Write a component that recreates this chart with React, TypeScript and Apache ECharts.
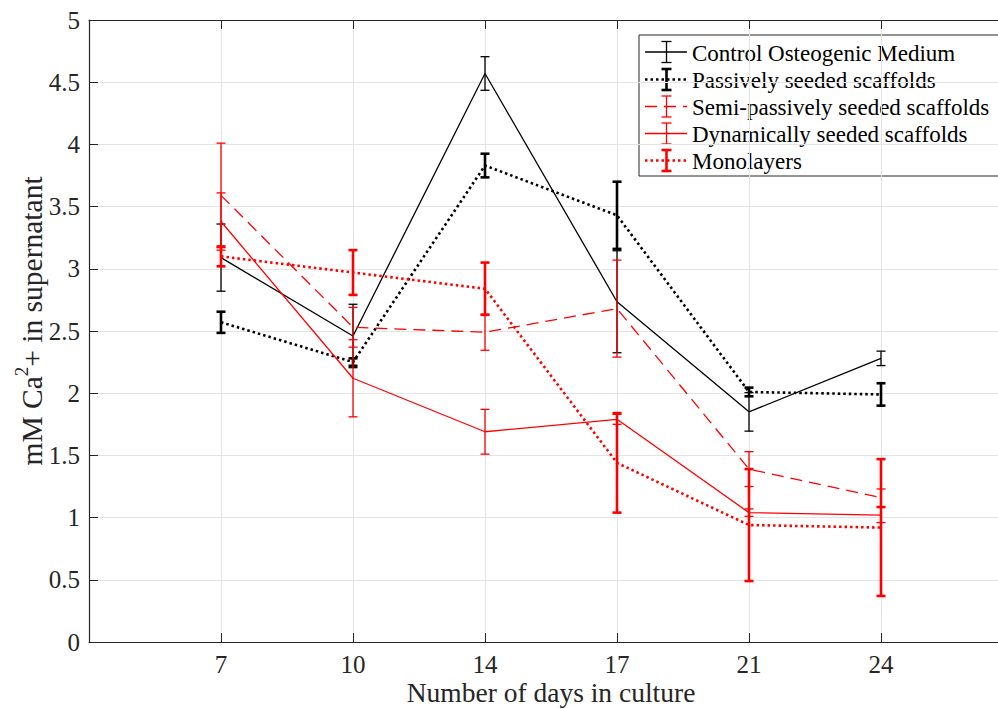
import React, { useEffect, useRef } from 'react';
import * as echarts from 'echarts';

// ---- data ----
const days = ['7', '10', '14', '17', '21', '24'];

const controlMean = [3.09, 2.46, 4.57, 2.735, 1.85, 2.28];
const controlErr = [0.27, 0.255, 0.135, 0.41, 0.155, 0.058];

const passiveMean = [2.57, 2.25, 3.83, 3.43, 2.01, 1.99];
const passiveErr = [0.085, 0.03, 0.095, 0.27, 0.035, 0.09];

const semiMean = [3.59, 2.53, 2.49, 2.68, 1.39, 1.16];
const semiErr = [0.42, 0.16, 0.145, 0.39, 0.14, 0.07];

const dynamicMean = [3.38, 2.12, 1.69, 1.79, 1.04, 1.02];
const dynamicErr = [0.23, 0.31, 0.18, 0.04, 0.03, 0.06];

const monoMean = [3.1, 2.97, 2.84, 1.44, 0.94, 0.92];
const monoErr = [0.08, 0.18, 0.21, 0.4, 0.45, 0.55];

const seriesNames = [
  'Control Osteogenic Medium',
  'Passively seeded scaffolds',
  'Semi-passively seeded scaffolds',
  'Dynamically seeded scaffolds',
  'Monolayers',
];

const FONT = 'Liberation Serif';
const AXIS = '#262626';
const GRID = '#e3e3e3';

type Def = {
  name: string;
  mean: number[];
  err: number[];
  color: string;
  width: number;
  dash: number[] | 'solid';
  barWidth: number;
};

const defs: Def[] = [
  { name: seriesNames[0], mean: controlMean, err: controlErr, color: '#000000', width: 1.3, dash: 'solid', barWidth: 1.3 },
  { name: seriesNames[1], mean: passiveMean, err: passiveErr, color: '#000000', width: 2.6, dash: [2.5, 3], barWidth: 2.6 },
  { name: seriesNames[2], mean: semiMean, err: semiErr, color: '#ff0000', width: 1.3, dash: [12, 7], barWidth: 1.3 },
  { name: seriesNames[3], mean: dynamicMean, err: dynamicErr, color: '#ff0000', width: 1.3, dash: 'solid', barWidth: 1.3 },
  { name: seriesNames[4], mean: monoMean, err: monoErr, color: '#ff0000', width: 2.6, dash: [2.5, 3], barWidth: 2.6 },
];

function buildSeries() {
  const out: any[] = [];
  defs.forEach((d, si) => {
    out.push({
      type: 'line',
      name: d.name,
      xAxisIndex: 0,
      yAxisIndex: 0,
      data: d.mean.map((v, i) => [i + 1, v]),
      symbol: 'none',
      lineStyle: { color: d.color, width: d.width, type: d.dash, cap: 'butt' },
      z: 2 + si * 2,
      silent: true,
    });
    out.push({
      type: 'custom',
      name: d.name + ' err',
      xAxisIndex: 0,
      yAxisIndex: 0,
      data: d.mean.map((v, i) => [i + 1, v - d.err[i], v + d.err[i]]),
      encode: { x: 0, y: [1, 2] },
      z: 3 + si * 2,
      silent: true,
      renderItem: (params: any, api: any) => {
        const x = api.value(0);
        const top = api.coord([x, api.value(2)]);
        const bot = api.coord([x, api.value(1)]);
        const w = 4.5;
        const style = { stroke: d.color, lineWidth: d.barWidth, fill: 'none' };
        return {
          type: 'group',
          children: [
            { type: 'line', shape: { x1: top[0], y1: top[1], x2: bot[0], y2: bot[1] }, style },
            { type: 'line', shape: { x1: top[0] - w, y1: top[1], x2: top[0] + w, y2: top[1] }, style },
            { type: 'line', shape: { x1: bot[0] - w, y1: bot[1], x2: bot[0] + w, y2: bot[1] }, style },
          ],
        };
      },
    });
  });
  return out;
}

function buildLegend() {
  const x0 = 639;
  const y0 = 35;
  const rowY = [52, 79.5, 106.5, 133.5, 160.5];
  const children: any[] = [
    {
      type: 'rect',
      shape: { x: x0, y: y0, width: 380, height: 141 },
      style: { fill: '#ffffff', stroke: AXIS, lineWidth: 1 },
    },
  ];
  defs.forEach((d, i) => {
    const cy = rowY[i];
    const lineDash = d.dash === 'solid' ? null : d.dash;
    children.push({
      type: 'line',
      shape: { x1: 645, y1: cy, x2: 687, y2: cy },
      style: { stroke: d.color, lineWidth: d.width, lineDash },
    });
    const es = { stroke: d.color, lineWidth: d.barWidth };
    children.push({ type: 'line', shape: { x1: 666.5, y1: cy - 10.5, x2: 666.5, y2: cy + 10.5 }, style: es });
    children.push({ type: 'line', shape: { x1: 661.5, y1: cy - 10.5, x2: 671.5, y2: cy - 10.5 }, style: es });
    children.push({ type: 'line', shape: { x1: 661.5, y1: cy + 10.5, x2: 671.5, y2: cy + 10.5 }, style: es });
    children.push({
      type: 'text',
      style: {
        text: d.name,
        x: 692,
        y: cy + 1,
        fontFamily: FONT,
        fontSize: 23,
        fill: '#000000',
        verticalAlign: 'middle',
        align: 'left',
      },
    });
  });
  return [{ type: 'group', z: 100, children }];
}

export default function App() {
  const ref = useRef<HTMLDivElement>(null);
  useEffect(() => {
    if (!ref.current) return;
    const chart = echarts.init(ref.current, undefined, { renderer: 'svg' });
    const xCommon = {
      type: 'value',
      min: 0,
      max: 7,
      interval: 1,
    };
    chart.setOption({
      animation: false,
      backgroundColor: '#ffffff',
      textStyle: { fontFamily: FONT },
      grid: {
        left: 89,
        top: 20,
        width: 924,
        height: 622,
        containLabel: false,
        outerBoundsMode: 'none',
      },
      xAxis: [
        {
          ...xCommon,
          position: 'bottom',
          name: 'Number of days in culture',
          nameLocation: 'middle',
          nameGap: 37,
          nameMoveOverlap: false,
          nameTextStyle: { fontFamily: FONT, fontSize: 27.5, color: AXIS, lineHeight: 26 },
          axisLine: { show: true, lineStyle: { color: AXIS, width: 1.2 } },
          axisTick: { show: true, inside: true, length: 9, lineStyle: { color: AXIS, width: 1 } },
          axisLabel: {
            show: true,
            margin: 11,
            fontFamily: FONT,
            fontSize: 25,
            lineHeight: 23,
            color: AXIS,
            formatter: (v: number) => (v >= 1 && v <= days.length ? days[v - 1] : ''),
          },
          splitLine: { show: true, lineStyle: { color: GRID, width: 1 } },
        },
        {
          ...xCommon,
          position: 'top',
          axisLine: { show: true, lineStyle: { color: AXIS, width: 1.2 } },
          axisTick: { show: true, inside: true, length: 9, lineStyle: { color: AXIS, width: 1 } },
          axisLabel: { show: false },
          splitLine: { show: false },
        },
      ],
      yAxis: [
        {
          type: 'value',
          min: 0,
          max: 5,
          interval: 0.5,
          position: 'left',
          name: '{a|mM Ca}{sup|2}{a|+ in supernatant}',
          nameLocation: 'middle',
          nameGap: 37,
          nameRotate: 90,
          nameMoveOverlap: false,
          nameTextStyle: {
            fontFamily: FONT,
            fontSize: 29.5,
            color: AXIS,
            padding: [0, 0, 0, 20],
            rich: {
              a: { fontFamily: FONT, fontSize: 29.5, color: AXIS, lineHeight: 40 },
              sup: { fontFamily: FONT, fontSize: 19, color: AXIS, verticalAlign: 'top', lineHeight: 40 },
            },
          },
          axisLine: { show: true, lineStyle: { color: AXIS, width: 1.2 } },
          axisTick: { show: true, inside: true, length: 9, lineStyle: { color: AXIS, width: 1 } },
          axisLabel: {
            show: true,
            margin: 9,
            fontFamily: FONT,
            fontSize: 25,
            color: AXIS,
            formatter: (v: number) => String(v),
          },
          splitLine: { show: true, lineStyle: { color: GRID, width: 1 } },
        },
      ],
      series: buildSeries(),
      graphic: buildLegend(),
    });
    return () => chart.dispose();
  }, []);
  return (
    <div
      ref={ref}
      style={{ position: 'fixed', left: 0, top: 0, width: 1030, height: 709, background: '#fff' }}
    />
  );
}
